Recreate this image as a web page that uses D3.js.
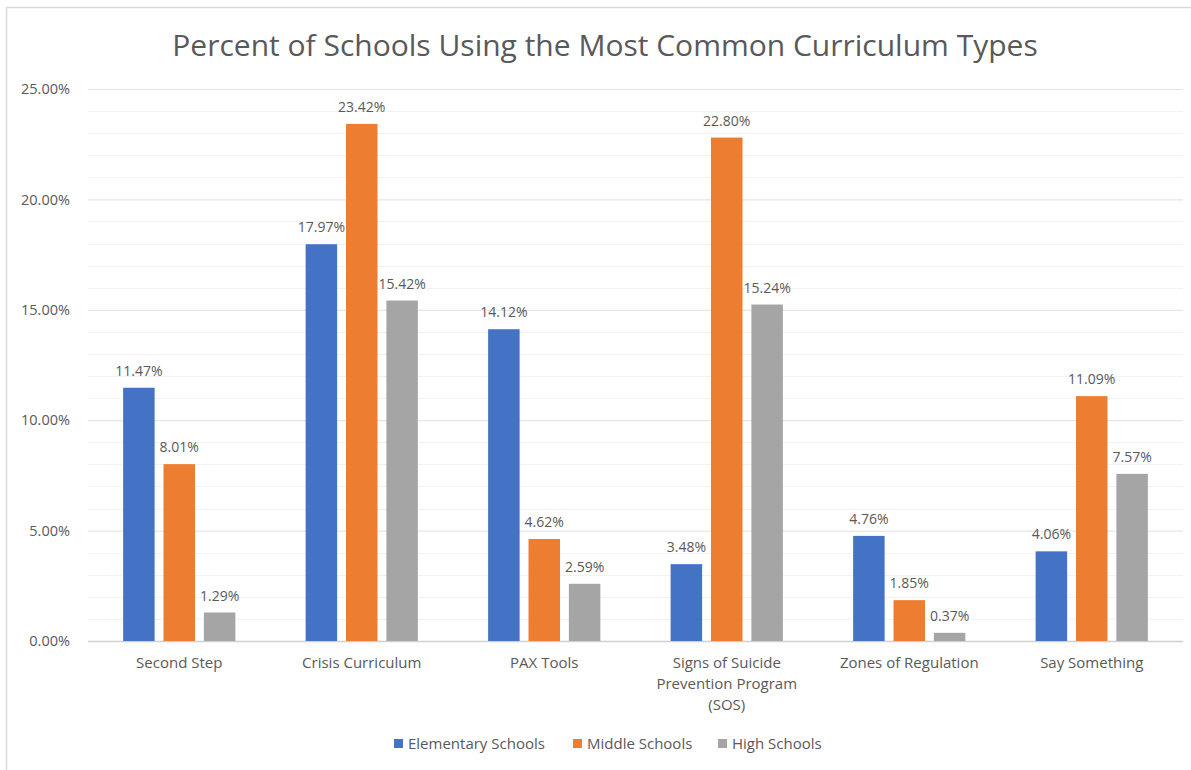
<!DOCTYPE html>
<html>
<head>
<meta charset="utf-8">
<script src="https://cdn.jsdelivr.net/npm/d3@7"></script>
<style>
    body { margin: 0; background: #fff; }
    text { font-family: "Open Sans", "Noto Sans", sans-serif; fill: #595959; }
</style>
</head>
<body>
<div id="chart"></div>
<script>
const chartTitle = "Percent of Schools Using the Most Common Curriculum Types";
const categories = [
    ["Second Step"],
    ["Crisis Curriculum"],
    ["PAX Tools"],
    ["Signs of Suicide", "Prevention Program", "(SOS)"],
    ["Zones of Regulation"],
    ["Say Something"]
];
const seriesNames = ["Elementary Schools", "Middle Schools", "High Schools"];
const elementary = [11.47, 17.97, 14.12, 3.48, 4.76, 4.06];
const middle = [8.01, 23.42, 4.62, 22.80, 1.85, 11.09];
const high = [1.29, 15.42, 2.59, 15.24, 0.37, 7.57];
const yTicks = [0, 5, 10, 15, 20, 25];
const colors = ["#4472C4", "#ED7D31", "#A5A5A5"];

const width = 1191, height = 770;
const margin = { top: 89, right: 8, bottom: 129, left: 88 };
const innerW = width - margin.left - margin.right;
const innerH = height - margin.top - margin.bottom;

const svg = d3.select("#chart")
    .append("svg")
    .attr("width", width)
    .attr("height", height);

// outer chart border
svg.append("rect")
    .attr("x", 6.5).attr("y", 7.5)
    .attr("width", width + 20).attr("height", height + 20)
    .attr("fill", "none")
    .attr("stroke", "#d9d9d9")
    .attr("stroke-width", 1.5);

svg.append("text")
    .attr("x", 605).attr("y", 56)
    .attr("text-anchor", "middle")
    .style("font-size", "30px")
    .text(chartTitle);

const g = svg.append("g")
    .attr("transform", "translate(" + margin.left + "," + margin.top + ")");

const y = d3.scaleLinear().domain([0, 25]).range([innerH, 0]);
const catKeys = categories.map(c => c.join(" "));
const x0 = d3.scaleBand()
    .domain(catKeys)
    .range([0, innerW])
    .paddingInner(0.385)
    .paddingOuter(0.1925);
const x1 = d3.scaleBand()
    .domain(seriesNames)
    .range([0, x0.bandwidth()])
    .paddingInner(0.22);

// minor gridlines (1%)
g.append("g")
    .selectAll("line")
    .data(d3.range(1, 25).filter(v => v % 5 !== 0))
    .enter().append("line")
    .attr("x1", 0).attr("x2", innerW)
    .attr("y1", d => Math.round(y(d)) + 0.5)
    .attr("y2", d => Math.round(y(d)) + 0.5)
    .attr("stroke", "#f2f2f2")
    .attr("stroke-width", 1);

// major gridlines + y axis
const yAxis = g.append("g")
    .call(d3.axisLeft(y).tickValues(yTicks).tickSize(-innerW).tickPadding(18)
        .tickFormat(d => d.toFixed(2) + "%"));
yAxis.select(".domain").remove();
yAxis.selectAll(".tick line")
    .attr("stroke", d => d === 0 ? "#d0d0d0" : "#e0e0e0")
    .attr("stroke-width", d => d === 0 ? 1.5 : 1);
yAxis.selectAll(".tick text")
    .style("font-size", "14.5px")
    .style("fill", "#595959");

const rows = categories.map((c, i) => ({
    key: catKeys[i],
    lines: c,
    values: [elementary[i], middle[i], high[i]]
}));

const groups = g.selectAll(".grp")
    .data(rows)
    .enter().append("g")
    .attr("class", "grp")
    .attr("transform", d => "translate(" + x0(d.key) + ",0)");

groups.selectAll("rect")
    .data(d => d.values.map((v, j) => ({ name: seriesNames[j], value: v, j })))
    .enter().append("rect")
    .attr("x", d => x1(d.name))
    .attr("y", d => y(d.value))
    .attr("width", x1.bandwidth())
    .attr("height", d => innerH - y(d.value))
    .attr("fill", d => colors[d.j]);

groups.selectAll(".lbl")
    .data(d => d.values.map((v, j) => ({ name: seriesNames[j], value: v })))
    .enter().append("text")
    .attr("class", "lbl")
    .attr("x", d => x1(d.name) + x1.bandwidth() / 2)
    .attr("y", d => y(d.value) - 12)
    .attr("text-anchor", "middle")
    .style("font-size", "14px")
    .text(d => d.value.toFixed(2) + "%");

// category labels
const xLabels = g.append("g")
    .attr("transform", "translate(0," + innerH + ")");
xLabels.selectAll("text")
    .data(rows)
    .enter().append("text")
    .attr("x", d => x0(d.key) + x0.bandwidth() / 2)
    .attr("y", 27)
    .attr("text-anchor", "middle")
    .style("font-size", "15px")
    .each(function (d) {
        d3.select(this).selectAll("tspan")
            .data(d.lines)
            .enter().append("tspan")
            .attr("x", x0(d.key) + x0.bandwidth() / 2)
            .attr("dy", (_, k) => k === 0 ? 0 : 21)
            .text(t => t);
    });

// legend
const legendX = [394, 573, 718];
const legend = svg.append("g");
seriesNames.forEach((name, i) => {
    legend.append("rect")
        .attr("x", legendX[i]).attr("y", 739)
        .attr("width", 9).attr("height", 9)
        .attr("fill", colors[i]);
    legend.append("text")
        .attr("x", legendX[i] + 14).attr("y", 748.5)
        .style("font-size", "15px")
        .text(name);
});
</script>
</body>
</html>
